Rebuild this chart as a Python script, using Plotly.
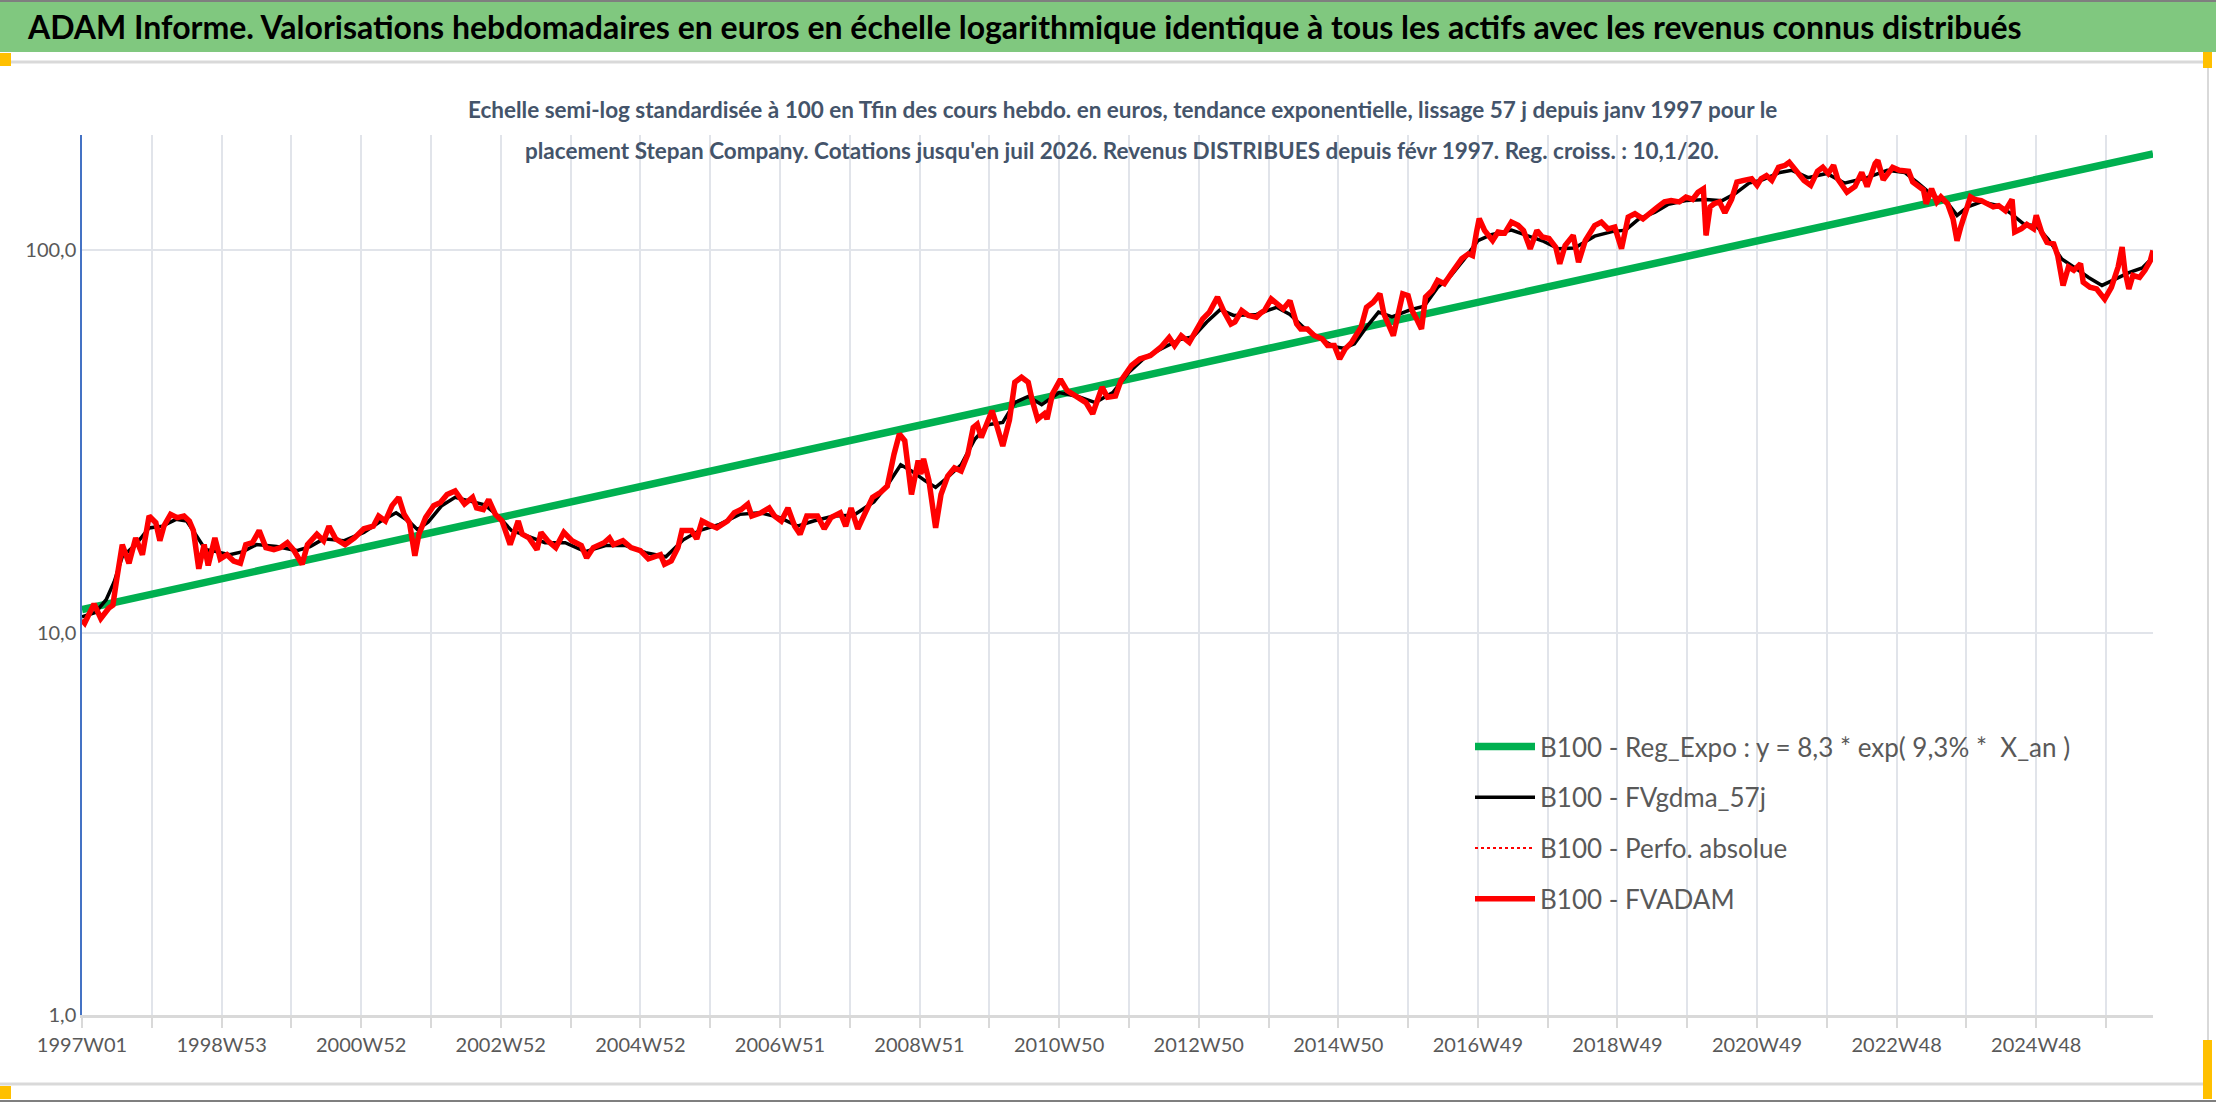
import plotly.graph_objects as go

# semaines (index depuis 1997W01) et valeurs
red_weeks = [
    0, 2, 9, 14, 20, 23, 26, 30, 35, 40, 45, 50, 55, 58, 61, 66, 71, 76, 80, 83, 87, 91, 94, 99, 103,
    108, 113, 118, 122, 127, 132, 137, 143, 148, 153, 158, 164, 168, 175, 180, 184, 189, 196, 203,
    210, 217, 221, 226, 231, 236, 240, 244, 248, 251, 256, 262,
    267, 272, 278, 285, 291, 294, 299, 303, 308, 313, 319, 325, 328, 333, 339, 342, 347, 353, 359,
    365, 372, 376, 381, 389, 393, 396, 403, 409, 416, 422, 431, 434, 439, 444, 447, 454, 458, 462,
    467, 473, 481, 486, 491, 496, 499, 506, 512, 516, 521, 526, 531, 535, 540,
    548, 553, 558, 565, 569, 573, 578, 583, 589, 595, 600, 605, 609, 613, 618, 623, 625, 627, 631,
    636, 640, 645, 650, 655, 660, 664, 667, 670, 675, 678, 682, 686, 691, 695, 700, 705, 708, 712,
    717, 719, 723, 729, 734, 742, 748, 753, 757, 760, 764, 770, 774, 782, 788, 796, 804, 810, 814,
    819, 825, 830, 835, 840, 846, 851, 856, 859, 864, 869, 875, 878, 881, 886, 891, 895, 900, 905,
    908, 913, 918, 924, 928, 933, 937, 941, 946, 953, 957, 962, 967, 970, 977, 980, 984, 988, 991,
    995, 998, 1001, 1006, 1010, 1015, 1020, 1024, 1028, 1033, 1036, 1039, 1041, 1045, 1051, 1055,
    1060, 1065, 1070, 1074, 1079, 1084, 1088, 1093, 1098,
    1101, 1105, 1111, 1115, 1120, 1127, 1132, 1137, 1142, 1147, 1152, 1157, 1163, 1168, 1174, 1179,
    1184, 1190, 1195, 1200, 1204, 1208, 1210, 1213, 1216, 1220, 1224, 1229, 1233, 1238, 1244, 1248,
    1251, 1255, 1259, 1264, 1269, 1272, 1277, 1283, 1288, 1293, 1297, 1301, 1305, 1308,
    1315, 1321, 1326, 1330, 1336, 1338, 1342, 1346, 1349, 1354, 1361, 1364, 1368, 1372, 1374, 1378,
    1382, 1385, 1390, 1394, 1397, 1400, 1407, 1410, 1415, 1420, 1424, 1428, 1433, 1438, 1440, 1445,
    1449, 1454, 1456, 1460, 1464, 1469, 1472, 1476, 1480, 1484, 1489, 1491, 1496, 1501, 1507, 1512,
    1517, 1520, 1522, 1525, 1528, 1533, 1537, 1541, 1543,
]
red_values = [
    10.8, 10.6, 11.9, 10.9, 11.6, 11.8, 13.9, 17.0, 15.2, 17.7, 16.0, 20.2, 19.4, 17.4, 19.0, 20.4,
    20.0, 20.2, 19.6, 18.5, 14.7, 17.0, 15.0, 17.7, 15.6, 16.0, 15.4, 15.2, 17.0, 17.2, 18.5, 16.7,
    16.5, 16.7, 17.2, 16.4, 15.1, 17.0, 18.1, 17.4, 19.0, 17.6, 17.0, 17.7, 18.7, 19.0, 20.2, 19.6,
    21.5, 22.6, 20.4, 19.4, 15.9, 18.1, 20.0, 21.5,
    21.9, 23.0, 23.5, 21.7, 22.6, 21.2, 21.0, 22.3, 20.4, 19.6, 17.0, 19.6, 18.1, 17.7, 16.5, 18.3,
    17.4, 16.7, 18.3, 17.4, 16.9, 15.7, 16.7, 17.2, 17.7, 17.0, 17.4, 16.7, 16.4, 15.6, 16.0, 15.1,
    15.4, 16.7, 18.5, 18.5, 17.6, 19.6, 19.2, 18.8, 19.6, 20.6, 21.0, 21.7, 20.2, 20.6, 21.2, 20.2,
    19.6, 21.2, 19.0, 18.1, 20.2,
    20.2, 18.7, 20.0, 20.6, 19.0, 21.2, 18.7, 20.4, 22.6, 23.3, 24.2, 29.3, 33.1, 31.8, 23.0, 28.2,
    26.0, 28.5, 25.0, 18.8, 23.0, 25.7, 27.0, 26.5, 29.3, 34.4, 35.1, 32.4, 36.0, 38.1, 34.4, 30.8,
    36.0, 45.2, 46.6, 45.2, 40.5, 36.2, 37.4, 36.2, 42.1, 46.0, 43.0, 41.3, 40.0, 37.4, 41.3, 43.9,
    41.3, 41.6, 45.6, 50.0, 52.0, 53.1, 55.9, 59.2, 56.4,
    59.8, 57.5, 61.7, 66.2, 69.0, 75.5, 69.0, 64.2, 65.0, 69.6, 67.6, 66.9, 68.5, 69.6, 74.7, 72.5,
    70.3, 73.9, 64.2, 62.3, 62.3, 59.9, 58.7, 56.4, 56.4, 52.0, 55.2, 57.5, 63.0, 71.0, 73.2, 77.0,
    68.2, 59.9, 66.9, 77.0, 76.2, 69.6, 65.5, 62.3, 75.5, 78.6, 83.5, 81.8, 86.9, 90.5, 95.1, 98.0,
    97.0, 111.7, 121.1, 112.8, 106.2, 111.7, 111.0, 118.7, 116.3, 112.8, 101.0, 112.8, 108.4, 107.5,
    102.0,
    92.3, 103.0, 109.5, 93.2, 106.0, 116.2, 118.6, 113.9, 115.1, 101.0, 122.3, 124.8, 121.0, 125.5,
    130.0, 134.0, 135.0, 134.0, 138.0, 136.0, 142.0, 145.0, 109.5, 130.0, 132.5, 134.0, 125.5, 136.0,
    151.0, 152.5, 154.0, 148.0, 154.0, 157.0, 152.5, 165.0, 167.0, 170.0, 162.0, 152.5, 148.0, 161.0,
    165.0, 159.0, 167.0, 154.0,
    142.0, 147.0, 160.0, 147.0, 169.0, 172.0, 153.0, 159.0, 165.0, 162.0, 161.0, 151.0, 147.0, 144.0,
    132.5, 145.0, 134.0, 138.0, 132.5, 121.0, 106.0, 116.0, 138.0, 136.0, 135.0, 132.5, 130.0, 131.0,
    127.0, 136.0, 111.7, 114.0, 117.0, 114.0, 123.5, 111.7, 105.0, 104.0, 97.0, 81.0, 90.5, 88.7,
    92.3, 82.6, 80.1, 79.3, 74.6, 80.1, 90.5, 102.0, 88.7, 79.3, 86.0, 85.0, 88.7, 94.0, 100.0,
]

black_weeks = [
    0, 10, 18, 24, 30, 40, 50, 60, 70, 78, 85, 92, 100, 110, 120, 130, 145, 160, 170, 180, 195, 210,
    222, 234, 244, 250, 258, 268, 278, 290, 300, 310, 320, 330, 345, 360, 375, 390, 405, 420, 435,
    448, 460, 475, 490, 505, 520, 533, 545, 560, 575, 590, 600, 610, 618, 628, 636, 645, 655, 665,
    675, 686, 695, 705, 715, 728, 742, 755, 768, 780, 792, 805, 818, 828, 838, 848, 858, 875, 890,
    900, 910, 920, 933, 940, 948, 957, 966, 976, 990, 1000, 1010, 1020, 1030, 1040, 1050, 1065,
    1077, 1088, 1100, 1112, 1127, 1140, 1150, 1160, 1172, 1182, 1195, 1210, 1222, 1232, 1242, 1252,
    1265, 1274, 1286, 1300, 1313, 1330, 1345, 1358, 1368, 1378, 1390, 1397, 1405, 1415, 1428, 1437,
    1447, 1456, 1465, 1475, 1485, 1495, 1505, 1515, 1525, 1535, 1543,
]
black_values = [
    11.0, 11.3, 12.2, 13.6, 15.8, 17.0, 18.8, 19.0, 19.8, 19.6, 18.0, 16.5, 16.3, 16.0, 16.3, 17.0,
    16.8, 16.4, 16.8, 17.6, 17.4, 18.3, 19.5, 20.6, 19.5, 18.6, 19.5, 21.5, 22.6, 22.0, 21.6, 20.2,
    18.5, 18.0, 17.2, 17.2, 16.3, 16.9, 16.9, 16.2, 15.8, 17.5, 18.5, 19.2, 20.4, 20.6, 20.0, 19.0,
    19.6, 20.2, 20.3, 22.0, 24.3, 27.5, 26.5, 25.0, 24.0, 25.5, 27.5, 32.0, 35.0, 35.5, 40.0, 41.5,
    39.5, 42.5, 41.5, 40.0, 42.5, 48.0, 52.5, 55.5, 58.5, 59.5, 65.0, 70.0, 67.6, 68.0, 71.0, 68.0,
    63.0, 59.5, 56.0, 55.5, 57.0, 63.0, 69.0, 67.0, 70.0, 71.5, 80.0, 86.0, 95.0, 106.0, 110.0,
    113.0, 109.0, 106.0, 101.0, 101.5, 109.0, 112.0, 113.0, 121.0, 126.0, 132.0, 135.0, 136.0,
    135.0, 141.0, 150.0, 153.0, 160.0, 162.0, 155.0, 159.0, 150.0, 155.0, 162.0, 160.0, 150.0,
    140.0, 133.0, 123.5, 130.0, 134.0, 131.0, 125.0, 117.0, 116.0, 107.0, 95.0, 90.0, 85.0, 81.0,
    84.0, 87.5, 90.0, 96.0,
]

# tendance exponentielle : valeurs lues aux deux extremites
green_weeks = [0, 1543]
green_values = [11.5, 179.0]

tick_labels = ["1997W01", "1998W53", "2000W52", "2002W52", "2004W52", "2006W51", "2008W51",
               "2010W50", "2012W50", "2014W50", "2016W49", "2018W49", "2020W49", "2022W48",
               "2024W48"]
y_ticks = [1, 10, 100]
y_labels = ["1,0", "10,0", "100,0"]

W, H = 2216, 1102
L, R, T, B = 82, 2153, 135, 1015
FONT = "Lato, Open Sans, sans-serif"
GRID = "#E1E4EA"


# passage pixels figure -> coordonnees paper
def px(x):
    return (x - L) / (R - L)


def py(y):
    return (B - y) / (B - T)


fig = go.Figure()

fig.add_trace(go.Scatter(x=green_weeks, y=green_values, mode="lines", legendgroup="a",
                         name="B100 - Reg_Expo : y = 8,3 * exp( 9,3% *  X_an )",
                         line=dict(color="#00B050", width=7.5)))
fig.add_trace(go.Scatter(x=black_weeks, y=black_values, mode="lines", legendgroup="b",
                         name="B100 - FVgdma_57j", line=dict(color="black", width=3.5)))
fig.add_trace(go.Scatter(x=red_weeks, y=red_values, mode="lines", legendgroup="c",
                         name="B100 - Perfo. absolue",
                         line=dict(color="#FF0000", width=2, dash="dot")))
fig.add_trace(go.Scatter(x=red_weeks, y=red_values, mode="lines", legendgroup="d",
                         name="B100 - FVADAM", line=dict(color="#FF0000", width=5.5)))

tickvals = [i * 52 for i in range(30)]
ticktext = []
for i in range(30):
    ticktext.append(tick_labels[i // 2] if i % 2 == 0 else "")

shapes = [
    # bandeau vert
    dict(type="rect", xref="paper", yref="paper", x0=px(0), x1=px(W), y0=py(52), y1=py(0),
         fillcolor="#80C87F", line=dict(width=0), layer="below"),
    dict(type="line", xref="paper", yref="paper", x0=px(0), x1=px(W), y0=py(1), y1=py(1),
         line=dict(color="#7F7F7F", width=2)),
    # cadre de la zone graphique
    dict(type="line", xref="paper", yref="paper", x0=px(0), x1=px(2208), y0=py(62), y1=py(62),
         line=dict(color="#D9D9D9", width=3)),
    dict(type="line", xref="paper", yref="paper", x0=px(0), x1=px(2208), y0=py(1084), y1=py(1084),
         line=dict(color="#D9D9D9", width=3)),
    dict(type="line", xref="paper", yref="paper", x0=px(2208), x1=px(2208), y0=py(62), y1=py(1084),
         line=dict(color="#D9D9D9", width=2)),
    dict(type="line", xref="paper", yref="paper", x0=px(0), x1=px(W), y0=py(1101), y1=py(1101),
         line=dict(color="#7F7F7F", width=2)),
    # poignees orange
    dict(type="rect", xref="paper", yref="paper", x0=px(0), x1=px(11), y0=py(66), y1=py(53),
         fillcolor="#FFC000", line=dict(width=0)),
    dict(type="rect", xref="paper", yref="paper", x0=px(2203), x1=px(2212), y0=py(68), y1=py(52),
         fillcolor="#FFC000", line=dict(width=0)),
    dict(type="rect", xref="paper", yref="paper", x0=px(0), x1=px(11), y0=py(1099), y1=py(1086),
         fillcolor="#FFC000", line=dict(width=0)),
    dict(type="rect", xref="paper", yref="paper", x0=px(2203), x1=px(2212), y0=py(1099), y1=py(1040),
         fillcolor="#FFC000", line=dict(width=0)),
]

annotations = [
    dict(text="ADAM Informe. Valorisations hebdomadaires en euros en échelle logarithmique identique "
              "à tous les actifs avec les revenus connus distribués",
         xref="paper", yref="paper", x=px(25), y=py(26), xanchor="left", yanchor="middle",
         showarrow=False, font=dict(family=FONT, size=32, color="black", weight="bold")),
    dict(text="Echelle semi-log standardisée à 100 en Tfin des cours hebdo. en euros, tendance "
              "exponentielle, lissage 57 j depuis janv 1997 pour le",
         xref="paper", yref="paper", x=px(1122), y=py(109), xanchor="center", yanchor="middle",
         showarrow=False, font=dict(family=FONT, size=22.5, color="#44546A", weight="bold")),
    dict(text="placement Stepan Company. Cotations jusqu'en juil 2026. Revenus DISTRIBUES depuis "
              "févr 1997. Reg. croiss. : 10,1/20.",
         xref="paper", yref="paper", x=px(1122), y=py(150), xanchor="center", yanchor="middle",
         showarrow=False, font=dict(family=FONT, size=22.5, color="#44546A", weight="bold")),
]

fig.update_layout(
    width=W, height=H, autosize=False,
    margin=dict(l=L, r=W - R, t=T, b=H - B, pad=0),
    paper_bgcolor="white", plot_bgcolor="white",
    font=dict(family=FONT, size=20, color="#595959"),
    showlegend=True,
    legend=dict(x=px(1470), y=py(723), xanchor="left", yanchor="top",
                font=dict(family=FONT, size=26, color="#595959"),
                bgcolor="rgba(0,0,0,0)", traceorder="grouped", tracegroupgap=14,
                itemwidth=60),
    xaxis=dict(range=[0, 1543], tickvals=tickvals, ticktext=ticktext,
               showgrid=True, gridcolor=GRID, gridwidth=2,
               ticks="outside", ticklen=10, tickcolor="#D9D9D9", tickwidth=2,
               showline=True, linecolor="#D9D9D9", linewidth=3,
               zeroline=False, tickfont=dict(size=20, color="#595959")),
    yaxis=dict(type="log", range=[0, 2.302], tickvals=y_ticks, ticktext=y_labels,
               showgrid=True, gridcolor=GRID, gridwidth=2,
               ticks="", showline=True, linecolor="#4472C4", linewidth=1.5,
               zeroline=False, tickfont=dict(size=20, color="#595959")),
    shapes=shapes,
    annotations=annotations,
)

# la page html a une marge par defaut : on la supprime pour caler la figure au coin
fig.write_html("out.html", config={"displayModeBar": False},
               post_script="document.body.style.margin='0';")
